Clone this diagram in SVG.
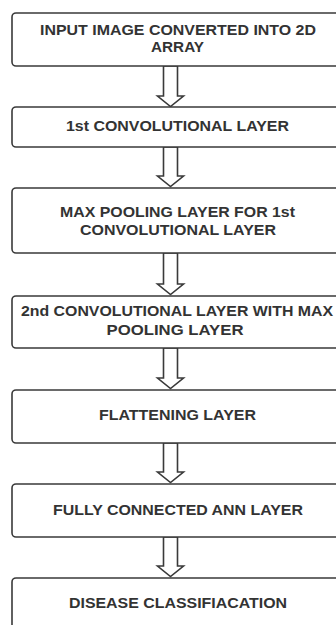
<svg xmlns="http://www.w3.org/2000/svg" width="336" height="625" viewBox="0 0 336 625">
<style>
.box{fill:#fff;stroke:#3a3a3a;stroke-width:1.6}
.arr{fill:#fff;stroke:#3a3a3a;stroke-width:1.6;stroke-linejoin:miter}
text{font-family:"Liberation Sans",Arial,sans-serif;font-weight:bold;font-size:14.8px;fill:#333;text-anchor:middle}
</style>
<rect width="336" height="625" fill="#fff"/>
<g id="connectors">
<path class="arr" d="M163.5,66 V96 H157.5 L170.5,106.5 L183.5,96 H177.5 V66 Z"/>
<path class="arr" d="M163.5,147 V176 H157.5 L170.5,186.5 L183.5,176 H177.5 V147 Z"/>
<path class="arr" d="M163.5,253 V284 H157.5 L170.5,294.5 L183.5,284 H177.5 V253 Z"/>
<path class="arr" d="M163.5,348 V378 H157.5 L170.5,388.5 L183.5,378 H177.5 V348 Z"/>
<path class="arr" d="M163.5,443 V472 H157.5 L170.5,482.5 L183.5,472 H177.5 V443 Z"/>
<path class="arr" d="M163.5,537 V566 H157.5 L170.5,576.5 L183.5,566 H177.5 V537 Z"/>
</g>
<g id="node1">
<rect class="box" x="12" y="13" width="332" height="53" rx="4"/>
<text x="178" y="34.5" textLength="276" lengthAdjust="spacingAndGlyphs">INPUT IMAGE CONVERTED INTO 2D</text>
<text x="177.5" y="51.5" textLength="53" lengthAdjust="spacingAndGlyphs">ARRAY</text>
</g>
<g id="node2">
<rect class="box" x="12" y="107" width="332" height="40" rx="4"/>
<text x="177.5" y="130.7" textLength="223" lengthAdjust="spacingAndGlyphs">1st CONVOLUTIONAL LAYER</text>
</g>
<g id="node3">
<rect class="box" x="12" y="188" width="332" height="65" rx="4"/>
<text x="177.5" y="216.7" textLength="235" lengthAdjust="spacingAndGlyphs">MAX POOLING LAYER FOR 1st</text>
<text x="178" y="235" textLength="196" lengthAdjust="spacingAndGlyphs">CONVOLUTIONAL LAYER</text>
</g>
<g id="node4">
<rect class="box" x="12" y="296" width="332" height="52" rx="4"/>
<text x="177" y="316" textLength="312" lengthAdjust="spacingAndGlyphs">2nd CONVOLUTIONAL LAYER WITH MAX</text>
<text x="175" y="335" textLength="137" lengthAdjust="spacingAndGlyphs">POOLING LAYER</text>
</g>
<g id="node5">
<rect class="box" x="12" y="390" width="332" height="53" rx="4"/>
<text x="177.5" y="420" textLength="157" lengthAdjust="spacingAndGlyphs">FLATTENING LAYER</text>
</g>
<g id="node6">
<rect class="box" x="12" y="484" width="332" height="53" rx="4"/>
<text x="178" y="514.5" textLength="250" lengthAdjust="spacingAndGlyphs">FULLY CONNECTED ANN LAYER</text>
</g>
<g id="node7">
<rect class="box" x="12" y="578" width="332" height="60" rx="4"/>
<text x="178" y="608" textLength="218" lengthAdjust="spacingAndGlyphs">DISEASE CLASSIFIACATION</text>
</g>
</svg>
